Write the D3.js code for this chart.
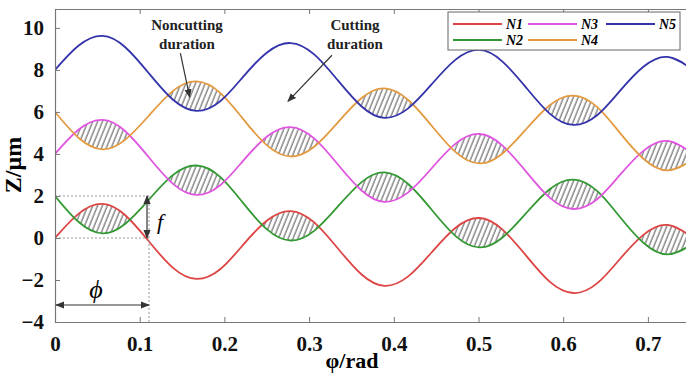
<!DOCTYPE html>
<html>
<head>
<meta charset="utf-8">
<script src="https://cdn.jsdelivr.net/npm/d3@7"></script>
<style>
  body { margin: 0; background: #fff; }
  svg text { font-family: "Liberation Serif", "Times New Roman", serif; }
  .tick text { font-weight: bold; font-size: 21px; fill: #111; }
</style>
</head>
<body>
<script>
// sample angles (rad), about 8 per tool period
const phi = [0, 0.028, 0.056, 0.083, 0.111, 0.139, 0.167, 0.195, 0.222, 0.25, 0.278, 0.306, 0.334, 0.362,
             0.389, 0.417, 0.445, 0.473, 0.501, 0.528, 0.556, 0.584, 0.612, 0.64, 0.667, 0.695, 0.723, 0.751];

// Z (um) of each tooth path
const n1 = [0, 1.16, 1.62, 1.08, -0.17, -1.41, -1.95, -1.49, -0.33, 0.82, 1.28, 0.74, -0.5, -1.74,
            -2.28, -1.83, -0.67, 0.49, 0.95, 0.41, -0.83, -2.08, -2.62, -2.16, -1.0, 0.16, 0.62, 0.07];
const n2 = [2, 0.76, 0.22, 0.68, 1.83, 2.99, 3.45, 2.91, 1.67, 0.42, -0.12, 0.34, 1.5, 2.66,
            3.12, 2.57, 1.33, 0.09, -0.45, 0.01, 1.17, 2.32, 2.78, 2.24, 1.0, -0.24, -0.78, -0.33];
const n3 = [4, 5.16, 5.62, 5.08, 3.83, 2.59, 2.05, 2.51, 3.67, 4.82, 5.28, 4.74, 3.5, 2.26,
            1.72, 2.17, 3.33, 4.49, 4.95, 4.41, 3.17, 1.92, 1.38, 1.84, 3.0, 4.16, 4.62, 4.07];
const n4 = [6, 4.76, 4.22, 4.68, 5.83, 6.99, 7.45, 6.91, 5.67, 4.42, 3.88, 4.34, 5.5, 6.66,
            7.12, 6.57, 5.33, 4.09, 3.55, 4.01, 5.17, 6.32, 6.78, 6.24, 5.0, 3.76, 3.22, 3.67];
const n5 = [8, 9.16, 9.62, 9.08, 7.83, 6.59, 6.05, 6.51, 7.67, 8.82, 9.28, 8.74, 7.5, 6.26,
            5.72, 6.17, 7.33, 8.49, 8.95, 8.41, 7.17, 5.92, 5.38, 5.84, 7.0, 8.16, 8.62, 8.07];

const seriesNames = ["N1", "N2", "N3", "N4", "N5"];
const seriesColors = ["#dd4444", "#339933", "#e055e0", "#e39a40", "#3333aa"];
const seriesValues = [n1, n2, n3, n4, n5];

const xTicks = [0, 0.1, 0.2, 0.3, 0.4, 0.5, 0.6, 0.7];
const yTicks = [-4, -2, 0, 2, 4, 6, 8, 10];

const feed = 2;        // f
const halfPeriod = 0.111; // phi marker

const W = 686, H = 378;
const plotLeft = 55, plotTop = 9, plotBottom = 322;
const serif = "'Liberation Serif', 'Times New Roman', serif";

const x = d3.scaleLinear().domain([0, 0.75]).range([plotLeft, plotLeft + 0.75 * 847]);
const y = d3.scaleLinear().domain([-4, 10.9]).range([plotBottom, plotTop]);

const svg = d3.select("body").append("svg")
    .attr("width", W)
    .attr("height", H)
    .style("display", "block");

const defs = svg.append("defs");

defs.append("clipPath").attr("id", "plotClip")
    .append("rect")
    .attr("x", plotLeft).attr("y", plotTop)
    .attr("width", x.range()[1] - plotLeft).attr("height", plotBottom - plotTop);

// hatch for the noncutting regions
const pat = defs.append("pattern")
    .attr("id", "hatch")
    .attr("patternUnits", "userSpaceOnUse")
    .attr("width", 4.5).attr("height", 8)
    .attr("patternTransform", "rotate(22)");
pat.append("line")
    .attr("x1", 1).attr("y1", -1).attr("x2", 1).attr("y2", 9)
    .attr("stroke", "#333").attr("stroke-width", 0.9);

// arrow heads
defs.append("marker")
    .attr("id", "head")
    .attr("viewBox", "0 0 10 10")
    .attr("refX", 9).attr("refY", 5)
    .attr("markerWidth", 9).attr("markerHeight", 9)
    .attr("markerUnits", "userSpaceOnUse")
    .attr("orient", "auto-start-reverse")
    .append("path")
    .attr("d", "M0,1 L10,5 L0,9 Z")
    .attr("fill", "#333");

const curve = d3.curveNatural;
const line = d3.line()
    .x((d, i) => x(phi[i]))
    .y(d => y(d))
    .curve(curve);

const plot = svg.append("g").attr("clip-path", "url(#plotClip)");

// hatched where tooth k sits above tooth k+1
for (let k = 0; k < seriesValues.length - 1; k++) {
    const upper = seriesValues[k];
    const next = seriesValues[k + 1];

    const aboveNext = d3.area()
        .x((d, i) => x(phi[i]))
        .y0(d => y(d))
        .y1(plotTop - 50)
        .curve(curve);
    const belowUpper = d3.area()
        .x((d, i) => x(phi[i]))
        .y0(plotBottom + 50)
        .y1(d => y(d))
        .curve(curve);

    defs.append("clipPath").attr("id", "above" + k)
        .append("path")
        .attr("d", aboveNext(next));

    plot.append("path")
        .attr("d", belowUpper(upper))
        .attr("fill", "url(#hatch)")
        .attr("clip-path", `url(#above${k})`);
}

// guide lines for f and phi
const guides = svg.append("g")
    .attr("stroke", "#999")
    .attr("stroke-width", 1)
    .attr("stroke-dasharray", "2,2")
    .attr("fill", "none");
guides.append("line")
    .attr("x1", x(0)).attr("x2", x(halfPeriod))
    .attr("y1", y(feed)).attr("y2", y(feed));
guides.append("line")
    .attr("x1", x(0)).attr("x2", x(halfPeriod))
    .attr("y1", y(0)).attr("y2", y(0));
guides.append("line")
    .attr("x1", x(halfPeriod)).attr("x2", x(halfPeriod))
    .attr("y1", y(feed)).attr("y2", plotBottom);

// curves
seriesValues.forEach((vals, k) => {
    plot.append("path")
        .datum(vals)
        .attr("fill", "none")
        .attr("stroke", seriesColors[k])
        .attr("stroke-width", 1.8)
        .attr("d", line);
});

// axes with inward ticks
const xAxis = svg.append("g")
    .attr("transform", `translate(0,${plotBottom})`)
    .call(d3.axisBottom(x).tickValues(xTicks).tickFormat(d => d === 0 ? "0" : d3.format(".1f")(d))
        .tickSizeInner(-5).tickSizeOuter(0).tickPadding(14));
const yAxis = svg.append("g")
    .attr("transform", `translate(${plotLeft},0)`)
    .call(d3.axisLeft(y).tickValues(yTicks).tickSizeInner(-5).tickSizeOuter(0).tickPadding(11));
const topAxis = svg.append("g")
    .attr("transform", `translate(0,${plotTop})`)
    .call(d3.axisTop(x).tickValues(xTicks).tickFormat("").tickSizeInner(-5).tickSizeOuter(0));

[xAxis, yAxis, topAxis].forEach(a => {
    a.attr("font-family", serif);
    a.selectAll(".domain").attr("stroke", "#777").attr("stroke-width", 1.2);
    a.selectAll(".tick line").attr("stroke", "#777");
    a.selectAll(".tick text").attr("font-family", serif);
});

// axis titles
svg.append("text")
    .attr("x", 352).attr("y", 368)
    .attr("text-anchor", "middle")
    .attr("font-family", serif)
    .attr("font-weight", "bold")
    .attr("font-size", 22)
    .text("φ/rad");

svg.append("text")
    .attr("transform", "translate(21,165) rotate(-90)")
    .attr("text-anchor", "middle")
    .attr("font-family", serif)
    .attr("font-weight", "bold")
    .attr("font-size", 24)
    .text("Z/μm");

// f and phi arrows
svg.append("line")
    .attr("x1", x(halfPeriod) - 2).attr("x2", x(halfPeriod) - 2)
    .attr("y1", y(feed)).attr("y2", y(0))
    .attr("stroke", "#333").attr("stroke-width", 1.2)
    .attr("marker-start", "url(#head)").attr("marker-end", "url(#head)");
svg.append("text")
    .attr("x", 160).attr("y", 229)
    .attr("text-anchor", "middle")
    .attr("font-family", serif)
    .attr("font-style", "italic")
    .attr("font-size", 22)
    .text("f");

svg.append("line")
    .attr("x1", x(0) + 1).attr("x2", x(halfPeriod))
    .attr("y1", 305).attr("y2", 305)
    .attr("stroke", "#333").attr("stroke-width", 1.2)
    .attr("marker-start", "url(#head)").attr("marker-end", "url(#head)");
svg.append("text")
    .attr("x", 96).attr("y", 298)
    .attr("text-anchor", "middle")
    .attr("font-family", serif)
    .attr("font-style", "italic")
    .attr("font-size", 26)
    .text("ϕ");

// region notes
const notes = [
    { lines: ["Noncutting", "duration"], tx: 187, from: [0.148, 8.8], to: [0.159, 6.7] },
    { lines: ["Cutting", "duration"], tx: 355, from: [0.327, 8.7], to: [0.275, 6.5] }
];
notes.forEach(n => {
    n.lines.forEach((t, i) => {
        svg.append("text")
            .attr("x", n.tx).attr("y", 30 + i * 19)
            .attr("text-anchor", "middle")
            .attr("font-family", serif)
            .attr("font-weight", "bold")
            .attr("font-size", 15)
            .attr("fill", "#222")
            .text(t);
    });
    svg.append("line")
        .attr("x1", x(n.from[0])).attr("y1", y(n.from[1]))
        .attr("x2", x(n.to[0])).attr("y2", y(n.to[1]))
        .attr("stroke", "#333").attr("stroke-width", 1.2)
        .attr("marker-end", "url(#head)");
});

// legend
const legend = svg.append("g");
legend.append("rect")
    .attr("x", 448).attr("y", 12)
    .attr("width", 232).attr("height", 38)
    .attr("fill", "#fff")
    .attr("stroke", "#666")
    .attr("stroke-width", 1);

const legendCols = [453, 528, 606];
seriesNames.forEach((name, k) => {
    const col = Math.floor(k / 2), row = k % 2;
    const lx = legendCols[col], ly = 24 + row * 16;
    legend.append("line")
        .attr("x1", lx).attr("x2", lx + 49)
        .attr("y1", ly).attr("y2", ly)
        .attr("stroke", seriesColors[k])
        .attr("stroke-width", 1.8);
    legend.append("text")
        .attr("x", lx + 53).attr("y", ly + 5)
        .attr("font-family", serif)
        .attr("font-weight", "bold")
        .attr("font-style", "italic")
        .attr("font-size", 14)
        .text(name);
});
</script>
</body>
</html>
